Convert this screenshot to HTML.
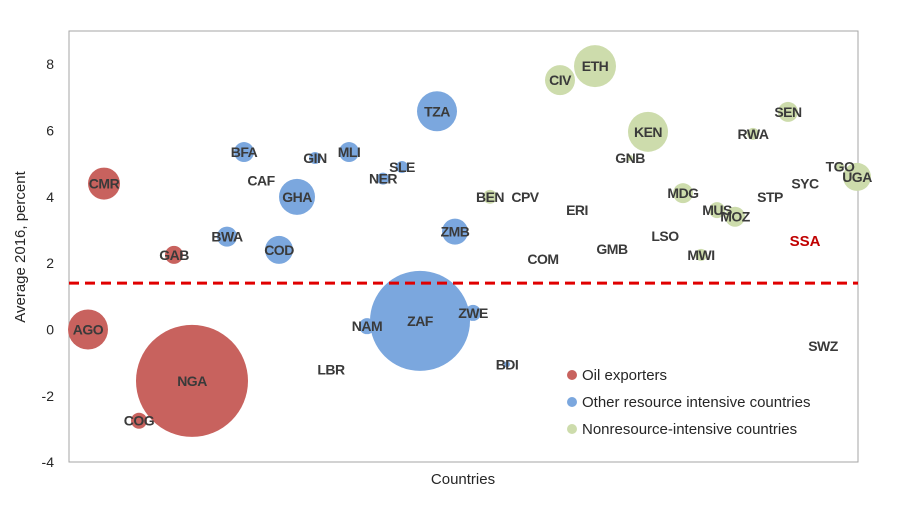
<!DOCTYPE html>
<html><head><meta charset="utf-8"><style>
body{margin:0;background:#fff;}
svg{display:block;font-family:"Liberation Sans",Arial,sans-serif;}
</style></head><body>
<svg id="c" width="905" height="513"></svg>
<script>
const codes=["AGO","CMR","GAB","NGA","COG","BFA","GIN","MLI","CAF","GHA","NER","SLE","TZA","BWA","COD","ZMB","ZAF","NAM","ZWE","LBR","BDI","CIV","ETH","KEN","GNB","SEN","RWA","BEN","CPV","ERI","COM","GMB","LSO","MDG","MUS","MOZ","MWI","STP","SYC","TGO","UGA","SWZ"];
const groups=[0,0,0,0,0,1,1,1,1,1,1,1,1,1,1,1,1,1,1,1,1,2,2,2,2,2,2,2,2,2,2,2,2,2,2,2,2,2,2,2,2,2];
const xIdx=[19,35,105,123,70,175,246,280,192,228,314,333,368,158,210,386,351,298,404,262,438,491,526,579,561,719,684,421,456,508,474,543,596,614,648,666,632,701,736,771,788,754];
const growth=[0,4.4,2.25,-1.55,-2.75,5.35,5.17,5.35,4.5,4.0,4.55,4.9,6.58,2.8,2.4,2.95,0.26,0.1,0.5,-1.2,-1.05,7.52,7.94,5.96,5.17,6.56,5.9,4.0,4.0,3.6,2.12,2.42,2.82,4.11,3.6,3.4,2.25,4.0,4.4,4.92,4.6,-0.5];
const size=[20,16,9,56,8,10,6,10,0,18,6,6,20,10,14,13,50,8,8,0,3,15,21,20,3,10,6,7,0,0,0,0,0,10,8,10,6,0,0,4,14,0];
const ssaValue=1.4, ssaLabelY=2.7, ssaLabelX=736;
const yTicks=[-4,-2,0,2,4,6,8];
const legendLabels=["Oil exporters","Other resource intensive countries","Nonresource-intensive countries"];
const colors=["#c8625e","#7ba7de","#cddcac"];
const L=69,R=858,T=31,B=462;
const X=v=>L+v*(R-L)/789;
const Y=v=>329.5-v*(B-64)/12;
const s=document.getElementById('c');const NS="http://www.w3.org/2000/svg";
function mk(t,a,txt){const e=document.createElementNS(NS,t);for(const k in a)e.setAttribute(k,a[k]);if(txt!==undefined)e.textContent=txt;s.appendChild(e);return e;}
let e=mk('rect',{x:L,y:T,width:R-L,height:B-T,fill:'none',stroke:'#a6a6a6','stroke-width':1});

yTicks.forEach(t=>{const el=mk('text',{x:54,y:Y(t)+5,'text-anchor':'end','font-size':14,fill:'#262626'},t);
});
e=mk('text',{x:25,y:247,'text-anchor':'middle','font-size':15,fill:'#262626',transform:'rotate(-90 25 247)'},'Average 2016, percent');

e=mk('text',{x:463,y:484,'text-anchor':'middle','font-size':15,fill:'#262626'},'Countries');

codes.forEach((c,i)=>{if(size[i]>0){const b=mk('circle',{cx:X(xIdx[i]),cy:Y(growth[i]),r:size[i],fill:colors[groups[i]]});
}});
e=mk('line',{x1:L,x2:R,y1:Y(ssaValue),y2:Y(ssaValue),stroke:'#e00000','stroke-width':3,'stroke-dasharray':'10,6'});

codes.forEach((c,i)=>{const t=mk('text',{x:X(xIdx[i]),y:Y(growth[i])+5,'text-anchor':'middle','font-size':14,'font-weight':'bold','letter-spacing':'-0.5',fill:'#3a3a3a'},c);
});
e=mk('text',{x:X(ssaLabelX),y:Y(ssaLabelY)+6,'text-anchor':'middle','font-size':15,'font-weight':'bold',fill:'#c00000'},'SSA');

legendLabels.forEach((l,i)=>{const cy=375+i*27;
const c=mk('circle',{cx:572,cy:cy,r:5,fill:colors[i]});
const t=mk('text',{x:582,y:cy+5,'font-size':15,fill:'#262626'},l);});
</script>
</body></html>
